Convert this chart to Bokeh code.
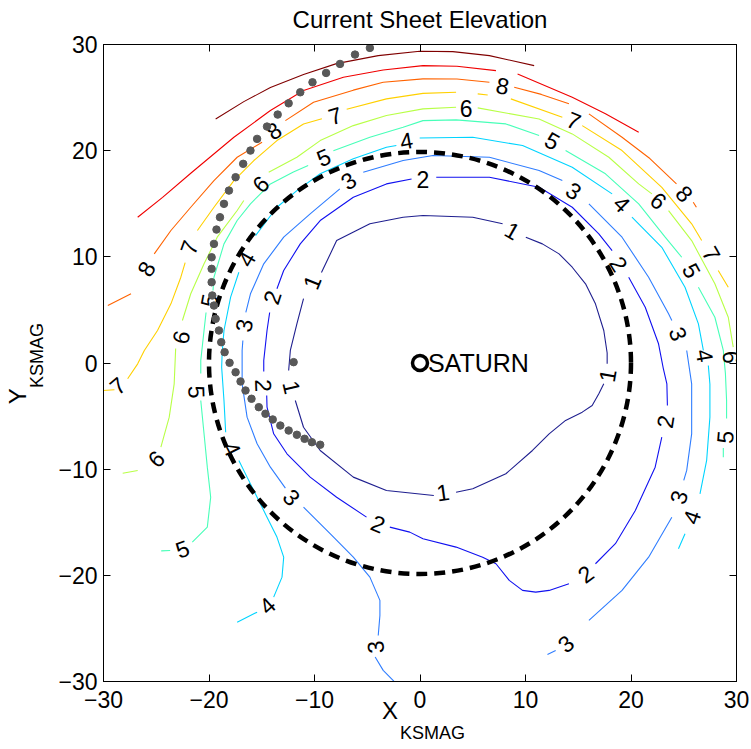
from bokeh.plotting import figure
from bokeh.models import ColumnDataSource, FixedTicker, LinearAxis, Range1d
from bokeh.core.properties import value
from bokeh.embed import file_html
from bokeh.resources import INLINE

N = float("nan")

# ---------------- data: contour levels (NaN = break where an inline label sits)
c1_x = [-11.82, -11.04, -9.46, -6.32, -3.18, 1.31, N,
        3.42, 5.0, 8.14, 10.66, 12.24, 13.80, 15.38, 16.32, 16.95, 17.42, N,
        17.74, 17.74, 17.42, 16.63, 15.69, 14.43, 13.18, 11.60, 10.03, N,
        7.83, 5.0, 0.28, -1.60, -4.75, -7.90, -9.34, N,
        -11.04, -11.67, -12.29, -12.45]
c1_y = [-3.53, -6.05, -8.24, -10.75, -12.01, -12.48, N,
        -12.17, -11.85, -10.43, -8.24, -6.67, -5.41, -4.63, -4.0, -2.90, -1.96, N,
        -0.08, 0.94, 3.06, 5.57, 7.46, 9.02, 10.28, 11.22, 11.85, N,
        13.11, 13.73, 13.89, 13.73, 13.11, 11.53, 8.52, N,
        6.07, 3.69, 1.18, -0.71]

c2_x = [1.54, 6.58, 11.29, 14.43, 16.95, 18.21, N,
        19.78, 21.35, 22.61, 23.06, 23.40, 23.45, N,
        22.92, 22.29, 20.41, 18.52, 16.63, N,
        14.12, 12.24, 10.97, 9.72, 8.46, 7.20, 5.94, 3.42, 0.28, -0.97, -2.86, N,
        -5.07, -7.90, -10.41, -12.61, -13.87, -14.50, -14.53, N,
        -14.81, -14.81, -14.50, -14.25, N,
        -13.56, -12.92, -11.35, -9.46, -6.32, -3.18, -0.80]
c2_y = [17.50, 17.50, 16.55, 14.67, 12.17, 10.59, N,
        8.08, 5.25, 1.81, -0.5, -1.96, -4.0, N,
        -6.99, -9.81, -13.89, -17.02, -18.91, N,
        -20.79, -21.42, -21.58, -21.42, -20.48, -18.91, -18.29, -17.34, -16.55, -15.93, -15.46, N,
        -14.52, -12.64, -10.75, -8.55, -6.67, -4.16, -3.06, N,
        -0.80, 0.24, 3.06, 4.76, N,
        6.99, 8.71, 11.22, 13.42, 15.61, 16.87, 17.33]

c3_x = [-2.2, -2.55, -3.49, -4.25, N,
        -3.96, -3.80, -3.80, -4.75, -6.32, -8.52, -11.04, N,
        -12.76, -14.18, -15.44, -16.39, -16.86, -16.86, -16.79, N,
        -16.51, -16.07, -14.81, -12.92, -10.41, -7.6, N,
        -5.38, -1.60, 1.23, 6.58, 11.29, 13.49, N,
        16.01, 19.15, 21.67, 23.56, 23.87, N,
        25.28, 25.75, 25.75, 25.28, 25.0, N,
        23.87, 21.67, 19.15, 16.01, N,
        12.86, 12.08]
c3_y = [-30.3, -29.9, -28.95, -27.7, N,
        -25.66, -23.78, -22.36, -20.17, -18.29, -16.08, -13.58, N,
        -11.79, -9.81, -7.61, -5.10, -1.96, 1.18, 2.12, N,
        4.76, 6.52, 9.34, 11.85, 14.05, 16.4, N,
        17.97, 19.07, 19.54, 19.38, 18.13, 17.18, N,
        14.99, 11.85, 8.08, 4.63, 4.0, N,
        1.18, -1.96, -6.67, -10.12, -11.06, N,
        -14.52, -18.29, -21.42, -24.24, N,
        -27.07, -27.45]

c4_x = [-17.33, -15.44, N,
        -13.87, -13.08, -12.92, -13.56, -14.50, -15.44, -16.39, -17.17, N,
        -18.42, -18.58, -18.80, -18.75, -18.58, -17.95, -17.17, N,
        -15.59, -13.56, -11.67, -9.46, -6.32, -3.18, -2.24, N,
        -0.03, 5.0, 9.72, 14.43, 18.21, N,
        20.09, 22.92, 25.12, 26.39, 26.86, N,
        27.33, 27.48, 27.48, 27.17, 26.54, N,
        25.12, 24.50]
c4_y = [-24.41, -23.47, N,
        -22.05, -20.17, -18.29, -16.40, -14.52, -12.64, -10.75, -9.18, N,
        -6.52, -3.53, -0.40, 1.0, 3.06, 6.20, 8.55, N,
        12.0, 14.67, 16.24, 17.82, 19.23, 20.32, 20.48, N,
        21.2, 21.26, 20.48, 18.44, 15.93, N,
        13.73, 10.90, 7.14, 3.69, 1.18, N,
        -0.24, -2.0, -5.10, -9.18, -12.32, N,
        -16.08, -17.50]

c5_x = [-24.53, -23.68, N,
        -21.58, -20.16, -19.84, -20.16, -20.47, -20.78, N,
        -20.78, -20.78, -20.47, -20.28, N,
        -19.62, -19.53, -18.58, -17.33, -16.07, -14.18, -12.0, -10.6, N,
        -8.21, -4.75, -1.60, 0.28, 3.42, 8.14, 11.29, N,
        13.80, 17.58, 20.73, 23.24, 24.81, N,
        26.39, 27.95, 28.75, 28.95, 29.06, 29.06, N,
        28.75, 28.75]
c5_y = [-17.70, -17.66, N,
        -16.87, -15.46, -12.64, -9.81, -6.67, -3.53, N,
        -0.99, 0.24, 3.06, 4.76, N,
        6.83, 8.08, 11.22, 13.42, 14.99, 16.87, 18.0, 18.6, N,
        20.0, 21.26, 22.20, 22.83, 22.90, 22.52, 21.42, N,
        20.01, 17.82, 14.99, 11.85, 9.96, N,
        7.14, 4.31, 1.18, -1.0, -3.53, -5.23, N,
        -8.0, -8.87]

c6_x = [-28.18, -26.76, N,
        -24.56, -23.77, -23.30, -23.16, N,
        -22.52, -21.73, -20.47, -19.22, -17.33, -16.70, N,
        -14.34, -11.67, -9.46, -6.32, -3.18, 0.28, 3.42, N,
        5.47, 11.29, 14.43, 17.90, 20.73, 21.98, N,
        23.56, 25.75, 27.95, 29.22, 29.69]
c6_y = [-10.38, -10.12, N,
        -7.93, -5.10, -1.96, 1.37, N,
        4.00, 6.52, 9.34, 11.85, 14.36, 15.30, N,
        17.97, 19.38, 20.95, 22.36, 23.31, 23.94, 24.09, N,
        24.03, 22.99, 21.58, 19.38, 16.87, 15.93, N,
        14.36, 11.53, 7.46, 4.31, 1.49]

c7_x = [-30.2, -28.96, N,
        -27.71, -26.76, -26.13, -24.88, -23.61, -22.67, -22.26, N,
        -21.10, -19.53, -17.64, -15.75, -13.56, -11.04, -9.3, N,
        -6.95, -3.18, 0.28, 3.42, N,
        5.47, 6.42, N,
        8.61, 13.49, N,
        15.38, 19.15, 22.92, 25.75, 26.70, N,
        28.27, 29.22]
c7_y = [-2.6, -2.52, N,
        -1.49, -0.08, 1.18, 3.06, 5.57, 8.08, 9.46, N,
        12.48, 14.67, 17.18, 19.07, 20.95, 22.52, 23.0, N,
        23.9, 24.88, 25.40, 25.50, N,
        25.35, 25.25, N,
        24.88, 23.15, N,
        22.36, 20.01, 16.55, 13.11, 11.53, N,
        8.71, 7.14]

c8_x = [-29.59, -27.39, N,
        -25.19, -23.61, -21.73, -19.53, -17.33, -14.97, N,
        -12.76, -10.09, -6.32, -3.49, 0.28, 3.5, 6.58, N,
        8.93, 11.5, 14.12, N,
        16.01, 19.15, 21.79, 24.31, N,
        25.9, 26.2]
c8_y = [5.41, 6.52, N,
        10.28, 12.48, 14.67, 17.18, 19.38, 20.79, N,
        22.83, 24.56, 25.7, 26.44, 26.76, 26.75, 26.44, N,
        25.97, 25.3, 24.41, N,
        23.47, 21.26, 19.26, 16.87, N,
        15.14, 14.67]

c9_x = [-26.76, -24.4, -21.7, -17.64, -14.18, -11.04, -7.26, -3.49, 0.28, 3.5, 7.20, N,
        9.25, 14.43, 17.58, 20.73]
c9_y = [13.73, 15.6, 17.9, 21.26, 23.78, 25.66, 26.91, 27.6, 28.01, 27.95, 27.54, N,
        27.23, 25.03, 23.47, 21.73]

c10_x = [-19.37, -16.70, -14.18, -11.04, -7.92, -3.96, -0.03, 3.11, 6.58, 10.82]
c10_y = [22.99, 24.62, 25.94, 27.17, 28.20, 28.95, 29.36, 29.33, 28.95, 28.01]

levels = [1, 2, 3, 4, 5, 6, 7, 8, 9, 10]
level_colors = ["#1f1f8f", "#1010f0", "#2f7dff", "#00d4ff", "#47ffb8",
                "#b8ff47", "#ffd000", "#ff6300", "#f00000", "#800000"]

# inline contour labels
lab_text = ["8", "8", "8", "8",
            "7", "7", "7", "7", "7",
            "6", "6", "6", "6", "6", "6",
            "5", "5", "5", "5", "5", "5", "5",
            "4", "4", "4", "4", "4", "4", "4",
            "3", "3", "3", "3", "3", "3", "3", "3",
            "2", "2", "2", "2", "2", "2", "2",
            "1", "1", "1", "1", "1"]
lab_x = [-25.97, -13.87, 7.83, 25.09,
         -28.65, -21.89, -8.05, 14.59, 27.64,
         -25.03, -22.67, -15.12, 4.37, 22.61, 29.53,
         -22.52, -21.13, -20.0, -9.15, 12.55, 25.75, 28.90,
         -14.50, -17.80, -16.46, -1.29, 19.15, 27.01, 25.75,
         -4.25, -12.14, -16.70, -6.79, 14.59, 24.50, 24.50, 13.80,
         0.28, 18.84, 23.24, 15.69, -3.96, -14.81, -14.03,
         2.17, 17.74, 8.77, -10.25, -12.14]
lab_y = [8.87, 21.89, 26.13, 15.96,
         -2.12, 10.90, 23.31, 22.83, 10.28,
         -9.02, 2.43, 16.87, 23.94, 15.30, 0.55,
         -17.50, -2.73, 5.88, 19.38, 20.95, 8.71, -6.99,
         -22.83, -8.08, 9.81, 20.95, 14.99, 0.71, -14.52,
         -26.76, -12.64, 3.53, 17.18, 16.24, 2.75, -12.64, -26.44,
         17.28, 9.34, -5.51, -19.85, -15.14, -2.12, 6.20,
         -12.17, -1.18, 12.48, 7.61, -2.28]
lab_angle = [60, 35, -11, -47,
             40, 70, 17, -22, -60,
             45, 76, 45, 0, -40, -85,
             20, -88, 79, 23, -29, -61, 85,
             42, -63, 60, 10, -45, -80, 71,
             95, -47, 80, 35, -35, -70, 73, 40,
             0, -58, 81, 37, -23, -88, 72,
             8, 80, -30, 68, -77]

# spacecraft trajectory dots
dot_x = [-4.75, -6.16, -7.58, -8.90, -10.19, -11.35, -12.45, -13.49, -14.50, -15.44,
         -16.07, -16.76, -17.48, -18.11, -18.58, -18.96, -19.29, -19.53, -19.75, -19.75,
         -19.75, -19.69, -19.53, -19.37, -19.06, -18.84, -18.52, -18.05, -17.48, -17.01,
         -16.54, -15.97, -15.28, -14.65, -13.96, -13.24, -12.45, -11.67, -10.94, -10.25,
         -9.46, -11.98]
dot_y = [29.68, 29.05, 28.17, 27.32, 26.44, 25.50, 24.46, 23.40, 22.27, 21.11,
         20.01, 18.76, 17.50, 16.24, 14.99, 13.73, 12.57, 11.22, 9.96, 8.87,
         7.61, 6.36, 5.41, 4.16, 3.06, 1.96, 1.02, 0.02, -0.87, -1.74,
         -2.59, -3.37, -4.16, -4.78, -5.32, -5.89, -6.36, -6.76, -7.14, -7.46,
         -7.70, 0.08]

circle_radius = 20
planet_x, planet_y = [0], [0]
ticks = [-30, -20, -10, 0, 10, 20, 30]
tick_labels = {t: (str(t).replace("-", "\u2212")) for t in ticks}

FONT = "Liberation Sans"
NB = "\u00a0"

p = figure(width=751, height=749, x_range=Range1d(-30, 30), y_range=Range1d(-30, 30),
           output_backend="svg", toolbar_location=None,
           min_border_left=99, min_border_right=15, min_border_top=44, min_border_bottom=68)
p.xgrid.visible = False
p.ygrid.visible = False
p.outline_line_color = "black"
p.outline_line_width = 1
p.outline_line_alpha = 1
p.background_fill_color = "white"
p.border_fill_color = "white"

def style_axis(ax):
    ax.ticker = FixedTicker(ticks=ticks)
    ax.major_tick_in = 7
    ax.major_tick_out = 0
    ax.minor_tick_line_color = None
    ax.axis_line_color = "black"
    ax.major_tick_line_color = "black"
    ax.axis_label_text_font = FONT
    ax.axis_label_text_font_style = "normal"
    ax.axis_label_text_color = "black"

for ax in [p.xaxis[0], p.yaxis[0]]:
    style_axis(ax)
    ax.major_label_overrides = tick_labels
    ax.major_label_text_font = FONT
    ax.major_label_text_font_size = "23px"
    ax.major_label_text_color = "black"
p.yaxis[0].major_label_standoff = 6
p.xaxis[0].major_label_standoff = 9

# x label "X" with subscript "KSMAG"
p.xaxis[0].axis_label = "X" + NB * 9
p.xaxis[0].axis_label_text_font_size = "24px"
p.xaxis[0].axis_label_standoff = -14
# y label: subscript nearest the frame
p.yaxis[0].axis_label = NB * 3 + "KSMAG"
p.yaxis[0].axis_label_text_font_size = "18px"
p.yaxis[0].axis_label_standoff = 8

# top and right: tick marks only, plus the title on the top axis
top = LinearAxis()
style_axis(top)
top.major_label_text_font_size = "1px"
top.major_label_text_color = None
top.major_label_standoff = 0
top.axis_label = "Current Sheet Elevation"
top.axis_label_text_font_size = "24px"
top.axis_label_standoff = 12
p.add_layout(top, "above")

right = LinearAxis()
style_axis(right)
right.major_label_text_font_size = "1px"
right.major_label_text_color = None
right.major_label_standoff = 0
p.add_layout(right, "right")

# outer label-only axes
def label_axis(text, size, standoff):
    ax = LinearAxis(ticker=FixedTicker(ticks=[]), major_tick_in=0, major_tick_out=0,
                    minor_tick_line_color=None, axis_line_color=None,
                    major_label_text_font_size="1px", major_label_text_color=None,
                    major_label_standoff=0)
    ax.axis_label = text
    ax.axis_label_text_font = FONT
    ax.axis_label_text_font_style = "normal"
    ax.axis_label_text_font_size = size
    ax.axis_label_text_color = "black"
    ax.axis_label_standoff = standoff
    return ax

p.add_layout(label_axis(NB * 5 + "KSMAG", "18px", -4), "below")
p.add_layout(label_axis("Y" + NB * 10, "24px", -6), "left")

contours = [(c1_x, c1_y), (c2_x, c2_y), (c3_x, c3_y), (c4_x, c4_y), (c5_x, c5_y),
            (c6_x, c6_y), (c7_x, c7_y), (c8_x, c8_y), (c9_x, c9_y), (c10_x, c10_y)]
for (cx, cy), col in zip(contours, level_colors):
    p.line(cx, cy, line_color=col, line_width=1.1)

lab_src = ColumnDataSource(dict(x=lab_x, y=lab_y, text=lab_text, angle=lab_angle))
p.text(x="x", y="y", text="text", angle="angle", angle_units="deg", source=lab_src,
       text_font=value(FONT), text_font_size="23px", text_color="black",
       text_align="center", text_baseline="middle")

p.circle(x=planet_x, y=planet_y, radius=circle_radius, fill_color=None,
         line_color="black", line_width=4.5, line_dash="11 7")

p.scatter(x=dot_x, y=dot_y, size=7.5, marker="circle", fill_color="#585858", line_color="#585858")

p.scatter(x=planet_x, y=planet_y, size=15, marker="circle", fill_color=None,
          line_color="black", line_width=3.5)
p.text(x=[0.75], y=[0], text=["SATURN"], text_font=value(FONT), text_font_size="25px",
       text_align="left", text_baseline="middle", text_color="black")

open("out.html", "w").write(file_html(p, INLINE))
